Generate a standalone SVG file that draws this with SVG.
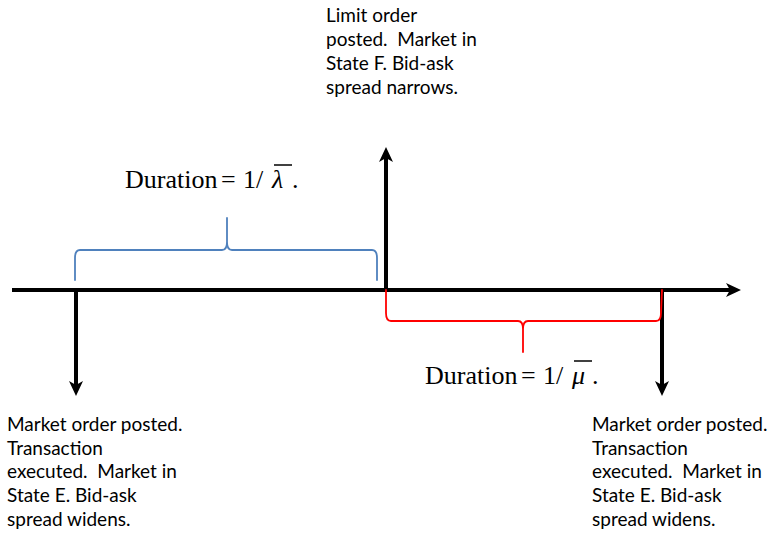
<svg xmlns="http://www.w3.org/2000/svg" width="772" height="533" viewBox="0 0 772 533">
<style>
.lbl{font-family:Lato,"Liberation Sans",sans-serif;font-size:19px;fill:#000;white-space:pre}
.math{font-family:"Liberation Serif","Times New Roman",serif;font-size:26px;fill:#000;white-space:pre}
.ax{stroke:#000;stroke-width:4;fill:none;marker-end:url(#ah)}
.brace{fill:none;stroke-width:1.8;stroke-linecap:round;stroke-linejoin:round}
.bar{stroke:#000;stroke-width:1.5}
</style>
<defs>
<marker id="ah" markerUnits="userSpaceOnUse" viewBox="0 0 16 16" markerWidth="16" markerHeight="16" refX="8" refY="8" orient="auto">
<path d="M1,1 L16,8 L1,15 L5,8 z" fill="#000"/>
</marker>
</defs>
<rect width="772" height="533" fill="#fff"/>
<g id="connectors">
<line class="ax" x1="12" y1="290" x2="733" y2="290"/>
<line class="ax" x1="386" y1="290" x2="386" y2="155"/>
<line class="ax" x1="76" y1="290" x2="76" y2="388"/>
<line class="ax" x1="662" y1="290" x2="662" y2="388"/>
</g>
<g id="brace-lambda">
<path class="brace" stroke="#4F81BD" d="M75,280 L75,258 Q75,250 80,250 L222,250 Q227,250 227,242 L227,218 M227,218 L227,242 Q227,250 232,250 L372,250 Q377,250 377,258 L377,280"/>
<text class="math" y="188"><tspan x="125">Duration</tspan><tspan x="221">=</tspan><tspan x="243">1/</tspan><tspan x="272" font-style="italic">λ</tspan><tspan x="292">.</tspan></text>
<line class="bar" x1="274" y1="165" x2="292" y2="165"/>
</g>
<g id="brace-mu">
<path class="brace" stroke="#FF0000" d="M386,290 L386,313 Q386,321 391,321 L518,321 Q523,321 523,329 L523,352 M523,352 L523,329 Q523,321 528,321 L656,321 Q661,321 661,313 L662,290"/>
<text class="math" y="384"><tspan x="425">Duration</tspan><tspan x="521">=</tspan><tspan x="543">1/</tspan><tspan x="572" font-style="italic">μ</tspan><tspan x="592">.</tspan></text>
<line class="bar" x1="574" y1="361" x2="592" y2="361"/>
</g>
<g id="node-limit">
<text class="lbl" x="326" y="22">Limit order</text>
<text class="lbl" x="326" y="46">posted.  Market in</text>
<text class="lbl" x="326" y="70">State F. Bid-ask</text>
<text class="lbl" x="326" y="94">spread narrows.</text>
</g>
<g id="node-market-left">
<text class="lbl" x="7" y="431">Market order posted.</text>
<text class="lbl" x="7" y="455">Transaction</text>
<text class="lbl" x="7" y="478">executed.  Market in</text>
<text class="lbl" x="7" y="502">State E. Bid-ask</text>
<text class="lbl" x="7" y="526">spread widens.</text>
</g>
<g id="node-market-right">
<text class="lbl" x="592" y="431">Market order posted.</text>
<text class="lbl" x="592" y="455">Transaction</text>
<text class="lbl" x="592" y="478">executed.  Market in</text>
<text class="lbl" x="592" y="502">State E. Bid-ask</text>
<text class="lbl" x="592" y="526">spread widens.</text>
</g>
</svg>
